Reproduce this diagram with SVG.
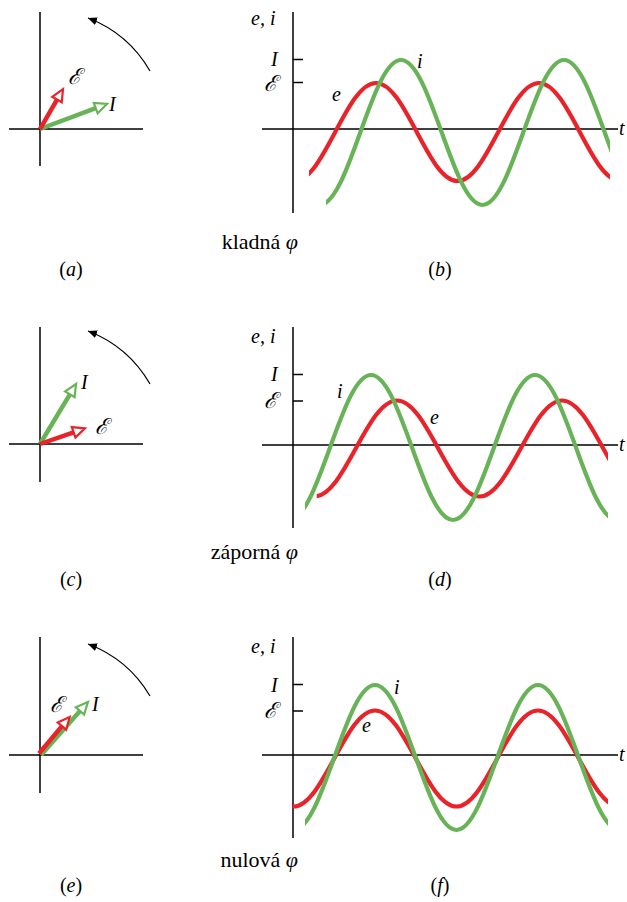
<svg xmlns="http://www.w3.org/2000/svg" xmlns:xlink="http://www.w3.org/1999/xlink" width="627" height="902" viewBox="0 0 627 902" font-family="'Liberation Serif', 'DejaVu Serif', serif">
<style>
.ax{stroke:#000;stroke-width:1.5;fill:none}
.arc{stroke:#000;stroke-width:1.2;fill:none}
.wr{stroke:#e8232a;stroke-width:4.2;fill:none}
.wg{stroke:#68b357;stroke-width:4.2;fill:none}
.sr{stroke:#e8232a;stroke-width:4.5}
.sg{stroke:#68b357;stroke-width:4.5}
.hr{stroke:#e8232a;stroke-width:2.2;fill:#fff;stroke-linejoin:miter}
.hg{stroke:#68b357;stroke-width:2.2;fill:#fff;stroke-linejoin:miter}
.t{font-size:20px}
.e{font-size:22px}
.i{font-style:italic}
.c{font-size:22px}
</style>
<defs>
<marker id="ah" markerUnits="userSpaceOnUse" markerWidth="10" markerHeight="8" refX="9" refY="4" orient="auto">
<path d="M0,0 L9,4 L0,8 z" fill="#000"/>
</marker>
<path id="wave" vector-effect="non-scaling-stroke" d="M-6,-1 C-5.6381,-1 -5.3261,-0.5123 -5,0 C-4.6739,0.5123 -4.3619,1 -4,1 C-3.6381,1 -3.3261,0.5123 -3,0 C-2.6739,-0.5123 -2.3619,-1 -2,-1 C-1.6381,-1 -1.3261,-0.5123 -1,0 C-0.6739,0.5123 -0.3619,1 0,1 C0.3619,1 0.6739,0.5123 1,0 C1.3261,-0.5123 1.6381,-1 2,-1 C2.3619,-1 2.6739,-0.5123 3,0 C3.3261,0.5123 3.6381,1 4,1 C4.3619,1 4.6739,0.5123 5,0 C5.3261,-0.5123 5.6381,-1 6,-1 C6.3619,-1 6.6739,-0.5123 7,0 C7.3261,0.5123 7.6381,1 8,1 C8.3619,1 8.6739,0.5123 9,0 C9.3261,-0.5123 9.6381,-1 10,-1"/>
<clipPath id="cbg"><rect x="326" y="0" width="284" height="250"/></clipPath>
<clipPath id="cbr"><rect x="309" y="0" width="301" height="250"/></clipPath>
<clipPath id="cdg"><rect x="305" y="300" width="303" height="250"/></clipPath>
<clipPath id="cdr"><rect x="316.7" y="300" width="291.3" height="250"/></clipPath>
<clipPath id="cfg"><rect x="305" y="620" width="303" height="250"/></clipPath>
<clipPath id="cfr"><rect x="292.5" y="620" width="315.5" height="250"/></clipPath>
</defs>

<!-- Panel a -->
<g id="phasor-a">
<line class="ax" x1="40" y1="12" x2="40" y2="166"/>
<line class="ax" x1="9" y1="129" x2="143" y2="129"/>
<path class="arc" d="M150,71 A122,122 0 0 0 88,18" marker-end="url(#ah)"/>
<g transform="translate(40,129) rotate(-20.5)">
<line class="sg" x1="0" y1="0" x2="59.5" y2="0"/>
<polygon class="hg" points="71.5,0 59.5,-5.5 59.5,5.5"/>
</g>
<g transform="translate(40,129) rotate(-60)">
<line class="sr" x1="0" y1="0" x2="34" y2="0"/>
<polygon class="hr" points="46,0 34,-5.5 34,5.5"/>
</g>
<text class="e i" x="68" y="84">ℰ</text>
<text class="t i" x="109" y="111">I</text>
</g>

<!-- Panel b -->
<g id="graph-b">
<line class="ax" x1="293" y1="12" x2="293" y2="213"/>
<line class="ax" x1="262" y1="129" x2="618" y2="129"/>
<line class="ax" x1="293" y1="59.5" x2="303" y2="59.5"/>
<line class="ax" x1="293" y1="82.5" x2="303" y2="82.5"/>
<g clip-path="url(#cbr)"><use xlink:href="#wave" class="wr" transform="translate(376,132) scale(40.75,-49)"/></g>
<g clip-path="url(#cbg)"><use xlink:href="#wave" class="wg" transform="translate(401,132.5) scale(40.75,-72.5)"/></g>
<text class="t i" x="251" y="25">e, i</text>
<text class="t i" x="271" y="66">I</text>
<text class="e i" x="264" y="91">ℰ</text>
<text class="t i" x="619" y="135">t</text>
<text class="t i" x="332" y="101">e</text>
<text class="t i" x="417" y="68">i</text>
</g>

<!-- Panel c -->
<g id="phasor-c">
<line class="ax" x1="40" y1="327" x2="40" y2="482"/>
<line class="ax" x1="9" y1="444" x2="143" y2="444"/>
<path class="arc" d="M150,384 A122,122 0 0 0 88,331" marker-end="url(#ah)"/>
<g transform="translate(40,444) rotate(-59)">
<line class="sg" x1="0" y1="0" x2="58" y2="0"/>
<polygon class="hg" points="70,0 58,-5.5 58,5.5"/>
</g>
<g transform="translate(40,444) rotate(-19.2)">
<line class="sr" x1="0" y1="0" x2="35.6" y2="0"/>
<polygon class="hr" points="47.6,0 35.6,-5.5 35.6,5.5"/>
</g>
<text class="t i" x="81" y="389">I</text>
<text class="e i" x="95" y="434">ℰ</text>
</g>

<!-- Panel d -->
<g id="graph-d">
<line class="ax" x1="293" y1="327" x2="293" y2="528"/>
<line class="ax" x1="262" y1="445" x2="618" y2="445"/>
<line class="ax" x1="293" y1="374.5" x2="303" y2="374.5"/>
<line class="ax" x1="293" y1="401" x2="303" y2="401"/>
<g clip-path="url(#cdr)"><use xlink:href="#wave" class="wr" transform="translate(397,448.5) scale(41.25,-48)"/></g>
<g clip-path="url(#cdg)"><use xlink:href="#wave" class="wg" transform="translate(371,447.5) scale(41,-72.5)"/></g>
<text class="t i" x="251" y="343">e, i</text>
<text class="t i" x="271" y="381">I</text>
<text class="e i" x="264" y="408">ℰ</text>
<text class="t i" x="619" y="451">t</text>
<text class="t i" x="337" y="398">i</text>
<text class="t i" x="430" y="424">e</text>
</g>

<!-- Panel e -->
<g id="phasor-e">
<line class="ax" x1="40" y1="637" x2="40" y2="793"/>
<line class="ax" x1="9" y1="755" x2="143" y2="755"/>
<path class="arc" d="M150,696 A122,122 0 0 0 88,644" marker-end="url(#ah)"/>
<g transform="translate(41,755) rotate(-48.5)">
<line class="sg" x1="0" y1="0" x2="58.8" y2="0"/>
<polygon class="hg" points="70.8,0 58.8,-5.5 58.8,5.5"/>
</g>
<g transform="translate(39,753.5) rotate(-50)">
<line class="sr" x1="0" y1="0" x2="35.7" y2="0"/>
<polygon class="hr" points="47.7,0 35.7,-5.5 35.7,5.5"/>
</g>
<text class="e i" x="50" y="712">ℰ</text>
<text class="t i" x="92" y="711">I</text>
</g>

<!-- Panel f -->
<g id="graph-f">
<line class="ax" x1="293" y1="637" x2="293" y2="838"/>
<line class="ax" x1="262" y1="755" x2="618" y2="755"/>
<line class="ax" x1="293" y1="684.5" x2="303" y2="684.5"/>
<line class="ax" x1="293" y1="711" x2="303" y2="711"/>
<g clip-path="url(#cfr)"><use xlink:href="#wave" class="wr" transform="translate(375,758.5) scale(40.75,-48)"/></g>
<g clip-path="url(#cfg)"><use xlink:href="#wave" class="wg" transform="translate(375,757.5) scale(40.75,-72.5)"/></g>
<text class="t i" x="251" y="653">e, i</text>
<text class="t i" x="271" y="692">I</text>
<text class="e i" x="264" y="718">ℰ</text>
<text class="t i" x="619" y="761">t</text>
<text class="t i" x="394" y="694">i</text>
<text class="t i" x="362" y="732">e</text>
</g>

<!-- Captions -->
<g id="captions">
<text class="t" x="71" y="276" text-anchor="middle">(<tspan class="i">a</tspan>)</text>
<text class="t" x="440" y="276" text-anchor="middle">(<tspan class="i">b</tspan>)</text>
<text class="c" x="298" y="249" text-anchor="end">kladná <tspan class="i">φ</tspan></text>
<text class="t" x="71" y="586" text-anchor="middle">(<tspan class="i">c</tspan>)</text>
<text class="t" x="440" y="586" text-anchor="middle">(<tspan class="i">d</tspan>)</text>
<text class="c" x="298" y="559" text-anchor="end">záporná <tspan class="i">φ</tspan></text>
<text class="t" x="71" y="892" text-anchor="middle">(<tspan class="i">e</tspan>)</text>
<text class="t" x="440" y="892" text-anchor="middle">(<tspan class="i">f</tspan>)</text>
<text class="c" x="298" y="867" text-anchor="end">nulová <tspan class="i">φ</tspan></text>
</g>
</svg>
